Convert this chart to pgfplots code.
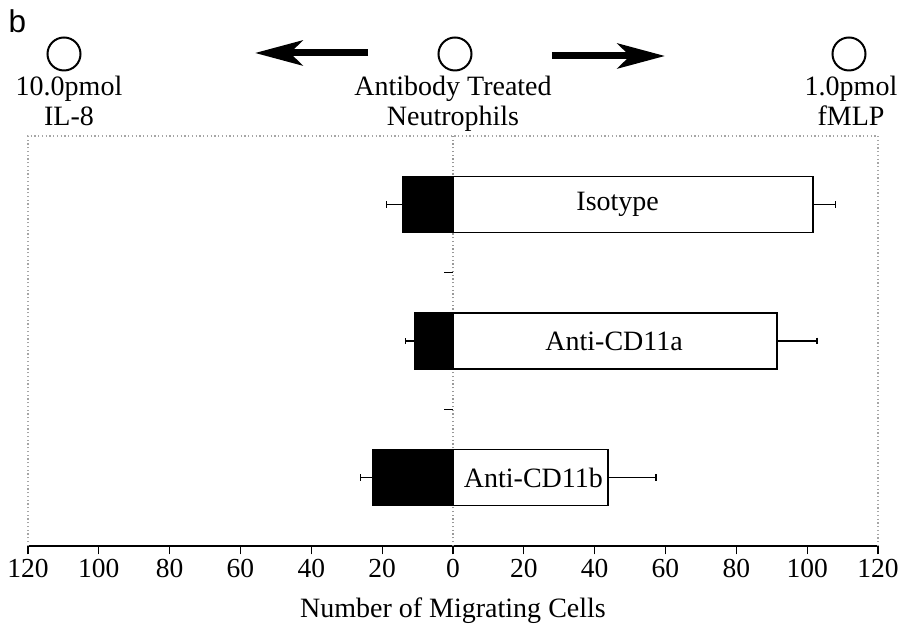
\documentclass[border=0pt]{standalone}
\usepackage{pgfplots}
\pgfplotsset{compat=1.18}
\usepackage{fontspec}
\setmainfont{Liberation Serif}
\newfontfamily\sansb{Liberation Sans}
\usetikzlibrary{arrows.meta}

% bars: y = category (2 Isotype, 1 Anti-CD11a, 0 Anti-CD11b)
\pgfplotstableread{
y x e
2 -14.2 4.6
1 -10.9 2.6
0 -22.7 3.5
}\ileight
\pgfplotstableread{
y x e
2 101.6 6.5
1 91.5 11.3
0 43.8 13.5
}\fmlp

\begin{document}
\begin{tikzpicture}
\path[use as bounding box] (-11.2pt,-32.4pt) rectangle (348.4pt,218.4pt);
\begin{axis}[
  at={(0,0)}, anchor=south west,
  scale only axis, width=340pt, height=164pt,
  xmin=-120, xmax=120, ymin=-0.5, ymax=2.5,
  axis x line*=bottom, axis y line=none,
  xtick={-120,-100,...,120},
  xticklabels={120,100,80,60,40,20,0,20,40,60,80,100,120},
  ytick=\empty,
  tick align=outside, major tick length=3.4pt,
  tick style={black, line width=0.5pt},
  x axis line style={line width=0.6pt},
  ticklabel style={font=\fontsize{11}{12}\selectfont},
  xticklabel style={yshift=1.5pt},
  /pgf/number format/assume math mode=true,
  xlabel={Number of Migrating Cells},
  xlabel style={font=\fontsize{11.2}{13}\selectfont, yshift=-1pt},
  clip=false,
  xbar, bar width=0.41, bar shift=0pt,
]
\draw[gray!70, densely dotted, line width=0.5pt]
  (rel axis cs:0,0) -- (rel axis cs:0,1) -- (rel axis cs:1,1) -- (rel axis cs:1,0);
\draw[gray!80, densely dotted, line width=0.5pt] (axis cs:0,-0.5) -- (axis cs:0,2.5);

\addplot[draw=black, fill=black, line width=0.5pt,
  error bars/.cd, x dir=minus, x explicit,
  error mark=|,
  error bar style={black, line width=0.5pt},
  error mark options={black, mark size=1.3pt, line width=0.5pt}]
  table[x=x, y=y, x error=e] {\ileight};
\addplot[draw=black, fill=white, line width=0.6pt,
  error bars/.cd, x dir=plus, x explicit,
  error mark=|,
  error bar style={black, line width=0.5pt},
  error mark options={black, mark size=1.3pt, line width=0.5pt}]
  table[x=x, y=y, x error=e] {\fmlp};

\draw[black, line width=0.5pt] (axis cs:-2.5,1.5) -- (axis cs:0,1.5);
\draw[black, line width=0.5pt] (axis cs:-2.5,0.5) -- (axis cs:0,0.5);

\node[font=\fontsize{11.2}{13}\selectfont] at (axis cs:46.5,2) {Isotype};
\node[font=\fontsize{11.2}{13}\selectfont] at (axis cs:45.5,1) {Anti-CD11a};
\node[font=\fontsize{11.2}{13}\selectfont] at (axis cs:22.7,0) {Anti-CD11b};
\end{axis}

% annotations above the axis
\node[font=\sansb\fontsize{12.6}{14}\selectfont, inner sep=0pt] at (-4.2pt,210pt) {b};
\foreach \cx in {14.4, 170.8, 328.4}
  \draw[black, line width=0.8pt] (\cx pt,196.8pt) circle (6.6pt);

\begin{scope}[every node/.style={font=\fontsize{11.2}{13}\selectfont, anchor=base, inner sep=0pt}]
\node at (16.4pt,180pt) {10.0pmol};
\node at (16.4pt,168pt) {IL-8};
\node at (170pt,180pt) {Antibody Treated};
\node at (170pt,168pt) {Neutrophils};
\node at (329.2pt,180pt) {1.0pmol};
\node at (329.2pt,168pt) {fMLP};
\end{scope}

\draw[line width=2.8pt, -{Stealth[length=19pt, width=10pt, inset=5pt]}] (136pt,197.2pt) -- (90.8pt,197.2pt);
\draw[line width=2.8pt, -{Stealth[length=19pt, width=10pt, inset=5pt]}] (209.5pt,196pt) -- (254.8pt,196pt);
\end{tikzpicture}
\end{document}
